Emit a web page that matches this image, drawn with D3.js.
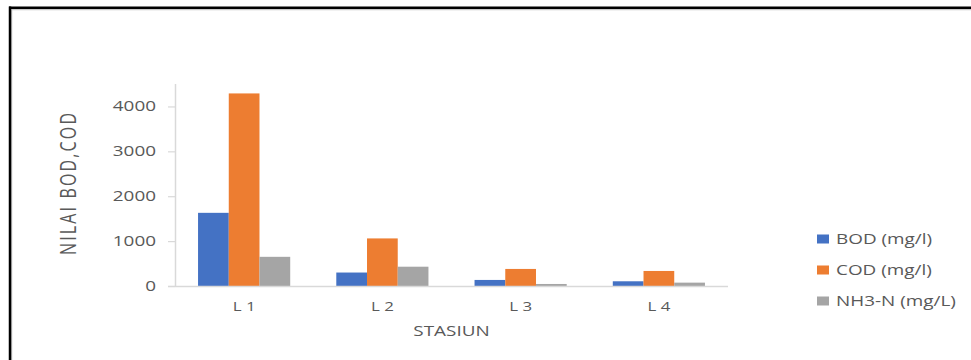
<!DOCTYPE html>
<html>
<head>
<meta charset="utf-8">
<script src="https://cdn.jsdelivr.net/npm/d3@7"></script>
<style>
  html, body { margin: 0; padding: 0; background: #fff; }
  svg { display: block; }
  text { font-family: "Open Sans", sans-serif; fill: #595959; }
</style>
</head>
<body>
<script>
// ---- data ----
const categories = ["L 1", "L 2", "L 3", "L 4"];
const seriesNames = ["BOD (mg/l)", "COD (mg/l)", "NH3-N (mg/L)"];
const bodValues = [1630, 300, 135, 105];
const codValues = [4290, 1060, 380, 335];
const nh3Values = [650, 430, 45, 75];
const yTicks = [0, 1000, 2000, 3000, 4000];
const colors = ["#4472C4", "#ED7D31", "#A5A5A5"];

const series = [bodValues, codValues, nh3Values];
const W = 971, H = 360;
const SX = 1.35; // horizontal stretch of the original picture

const svg = d3.select("body").append("svg").attr("width", W).attr("height", H);

// frame (top and left border with soft shadow)
svg.append("line").attr("x1", 11).attr("x2", W).attr("y1", 9.5).attr("y2", 9.5)
  .attr("stroke", "#c8c8c8").attr("stroke-width", 1.5);
svg.append("line").attr("x1", 11.5).attr("x2", 11.5).attr("y1", 9).attr("y2", H)
  .attr("stroke", "#c8c8c8").attr("stroke-width", 1.5);
svg.append("line").attr("x1", 9).attr("x2", W).attr("y1", 7.75).attr("y2", 7.75)
  .attr("stroke", "#000").attr("stroke-width", 2.5);
svg.append("line").attr("x1", 10).attr("x2", 10).attr("y1", 6.5).attr("y2", H)
  .attr("stroke", "#000").attr("stroke-width", 2.5);

const plotL = 175, plotR = 728, plotT = 84, plotB = 286;

const x0 = d3.scaleBand().domain(categories).range([plotL, plotR])
  .paddingInner(1 / 3).paddingOuter(1 / 6);
const x1 = d3.scaleBand().domain(d3.range(seriesNames.length)).range([0, x0.bandwidth()]);
const y = d3.scaleLinear().domain([0, 4500]).range([plotB, plotT]);

// y axis
const yAxis = svg.append("g").attr("transform", `translate(${plotL},0)`)
  .call(d3.axisLeft(y).tickValues(yTicks).tickSize(7).tickPadding(12).tickFormat(d3.format("d")));
yAxis.select(".domain").attr("stroke", "#d9d9d9").attr("stroke-width", 1.5)
  .attr("d", `M0.5,${plotT}V${plotB}`);
yAxis.selectAll(".tick line").attr("stroke", "#d9d9d9").attr("stroke-width", 1.2);
yAxis.selectAll(".tick text")
  .attr("x", -19 / SX)
  .attr("transform", `scale(${SX},1)`)
  .style("font-size", "14px")
  .style("font-family", '"Open Sans", sans-serif')
  .attr("fill", "#595959");

// bars
const groups = svg.append("g").selectAll("g").data(categories).join("g")
  .attr("transform", d => `translate(${x0(d)},0)`);
groups.selectAll("rect")
  .data((d, i) => series.map((s, k) => ({ k, v: s[i] })))
  .join("rect")
  .attr("x", d => x1(d.k))
  .attr("width", x1.bandwidth())
  .attr("y", d => y(d.v))
  .attr("height", d => y(0) - y(d.v))
  .attr("fill", d => colors[d.k]);

// x axis
const xAxis = svg.append("g").attr("transform", `translate(0,${plotB})`)
  .call(d3.axisBottom(x0).tickSize(0).tickPadding(0));
xAxis.select(".domain").attr("stroke", "#d9d9d9").attr("stroke-width", 1.5)
  .attr("d", `M168,0.5H${plotR}`);
xAxis.selectAll(".tick text")
  .attr("y", 0)
  .attr("dy", 0)
  .attr("transform", `translate(0,${311 - plotB}) scale(${SX},1)`)
  .style("font-size", "12.5px")
  .style("font-family", '"Open Sans", sans-serif')
  .attr("fill", "#595959");

// axis titles
svg.append("text")
  .attr("transform", `translate(${(plotL + plotR) / 2},336) scale(${SX},1)`)
  .attr("text-anchor", "middle")
  .style("font-size", "14px")
  .text("STASIUN");

svg.append("text")
  .attr("transform", `translate(75.5,184) scale(${SX},1) rotate(-90)`)
  .attr("text-anchor", "middle")
  .attr("textLength", 142)
  .attr("lengthAdjust", "spacing")
  .style("font-size", "16px")
  .text("NILAI BOD,COD");

// legend
const legend = svg.append("g").selectAll("g").data(seriesNames).join("g")
  .attr("transform", (d, i) => `translate(817,${239 + i * 31})`);
legend.append("rect").attr("x", 0).attr("y", -4.5).attr("width", 12).attr("height", 9)
  .attr("fill", (d, i) => colors[i]);
legend.append("text")
  .attr("transform", `translate(19,5) scale(${SX},1)`)
  .style("font-size", "14px")
  .text(d => d);
</script>
</body>
</html>
